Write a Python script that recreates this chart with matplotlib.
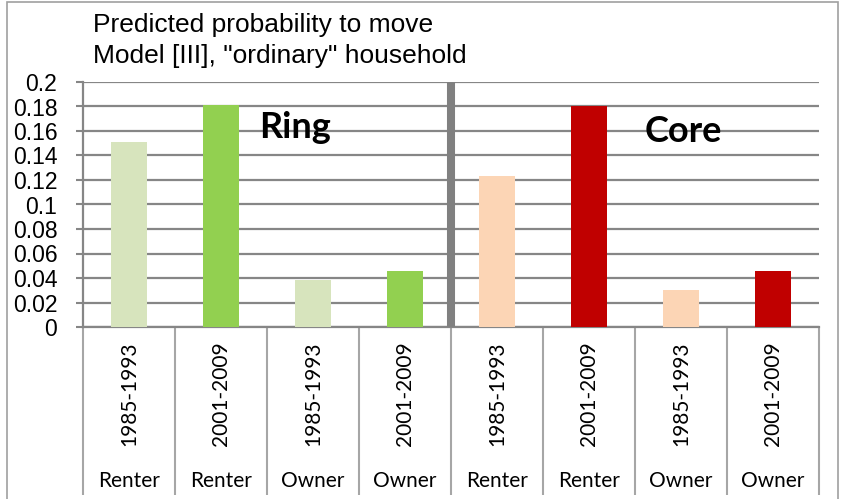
import matplotlib
matplotlib.use("Agg")
import matplotlib.pyplot as plt
import matplotlib.transforms as mtransforms
from matplotlib.patches import Rectangle

# ---- data ----
periods = ["1985-1993", "2001-2009", "1985-1993", "2001-2009",
           "1985-1993", "2001-2009", "1985-1993", "2001-2009"]
tenure = ["Renter", "Renter", "Owner", "Owner",
          "Renter", "Renter", "Owner", "Owner"]
values = [0.151, 0.181, 0.038, 0.046, 0.123, 0.180, 0.030, 0.046]
bar_colors = ["#d7e4bd", "#92d050", "#d7e4bd", "#92d050",
              "#fcd5b5", "#c00000", "#fcd5b5", "#c00000"]
yticks = [0, 0.02, 0.04, 0.06, 0.08, 0.1, 0.12, 0.14, 0.16, 0.18, 0.2]
ytick_labels = ["0", "0.02", "0.04", "0.06", "0.08", "0.1", "0.12",
                "0.14", "0.16", "0.18", "0.2"]
title_lines = ["Predicted probability to move",
               'Model [III], "ordinary" household']
region_labels = ["Ring", "Core"]

W, H = 845, 499
fig = plt.figure(figsize=(W / 100, H / 100), dpi=100)
fig.patch.set_facecolor("white")

ax_l, ax_r, ax_t, ax_b = 83, 819, 82, 327
ax = fig.add_axes([ax_l / W, (H - ax_b) / H, (ax_r - ax_l) / W, (ax_b - ax_t) / H])

grid_c = "#868686"
x = list(range(len(values)))
ax.bar(x, values, width=0.4, color=bar_colors, zorder=3)

ax.set_xlim(-0.5, len(values) - 0.5)
ax.set_ylim(0, 0.2)
ax.set_yticks(yticks)
ax.set_yticklabels(ytick_labels, family="Liberation Sans", fontsize=16.5)
ax.tick_params(axis="y", length=5, width=1.5, color=grid_c, pad=13.5)
ax.yaxis.grid(True, color=grid_c, lw=1.6, zorder=0)

# category separators as long ticks
ax.set_xticks([i - 0.5 for i in range(len(values) + 1)])
ax.set_xticklabels([])
ax.tick_params(axis="x", length=(495 - ax_b) * 0.72, width=1.5, color="#a6a6a6",
               direction="out")

for s in ["top", "right"]:
    ax.spines[s].set_visible(False)
for s in ["left", "bottom"]:
    ax.spines[s].set_color(grid_c)
    ax.spines[s].set_linewidth(1.6)

# divider between Ring and Core
ax.axvline(3.5, color="#808080", lw=5.8, zorder=4)

# region labels
ax.text(1.8, 0.163, region_labels[0], family="Lato", fontweight="bold",
        fontsize=26, ha="center", va="center", zorder=5)
ax.text(6.03, 0.160, region_labels[1], family="Lato", fontweight="bold",
        fontsize=26, ha="center", va="center", zorder=5)

# category labels
trans = mtransforms.blended_transform_factory(ax.transData, fig.transFigure)
for i in x:
    ax.text(i, (H - 393.5) / H, periods[i], rotation=90, family="Lato",
            fontsize=15, ha="center", va="center", transform=trans)
    ax.text(i, (H - 487) / H, tenure[i], family="Lato", fontsize=15,
            ha="center", va="baseline", transform=trans)

# title
fig.text(93 / W, (H - 32) / H, title_lines[0], family="Liberation Sans",
         fontsize=19, ha="left", va="baseline")
fig.text(93 / W, (H - 63) / H, title_lines[1], family="Liberation Sans",
         fontsize=19, ha="left", va="baseline")

# outer border (bottom edge lies outside the image)
fig.patches.append(Rectangle((7 / W, -10 / H), (838 - 7) / W, (497 + 10) / H,
                             transform=fig.transFigure, fill=False,
                             edgecolor="#a0a0a0", lw=1.2))

fig.savefig("out.png", dpi=100)
